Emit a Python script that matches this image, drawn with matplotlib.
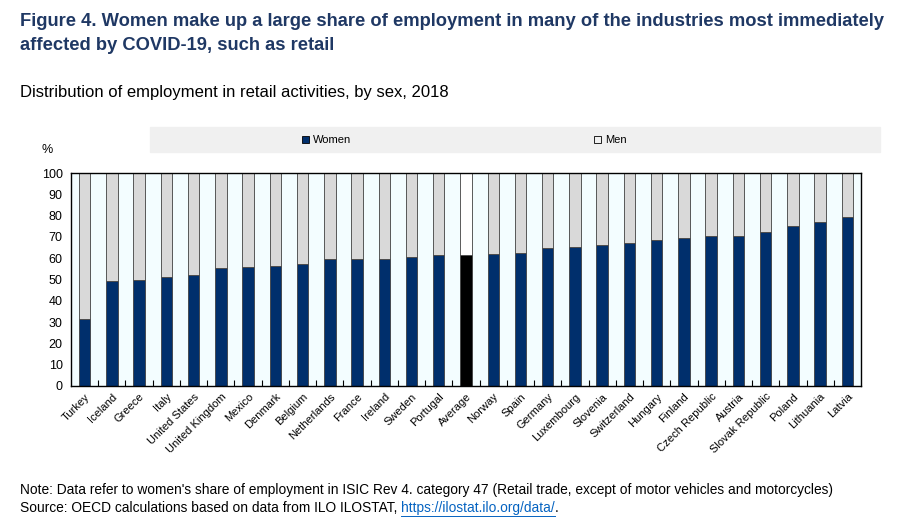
import numpy as np
import matplotlib.pyplot as plt
from matplotlib.patches import Rectangle

countries = ['Turkey', 'Iceland', 'Greece', 'Italy', 'United States', 'United Kingdom',
             'Mexico', 'Denmark', 'Belgium', 'Netherlands', 'France', 'Ireland', 'Sweden',
             'Portugal', 'Average', 'Norway', 'Spain', 'Germany', 'Luxembourg', 'Slovenia',
             'Switzerland', 'Hungary', 'Finland', 'Czech Republic', 'Austria',
             'Slovak Republic', 'Poland', 'Lithuania', 'Latvia']
women = [31.3, 49.5, 49.7, 51.1, 51.9, 55.6, 55.9, 56.2, 57.3, 59.5, 59.5, 59.8, 60.6,
         61.7, 61.7, 62.2, 62.3, 64.7, 65.3, 66.4, 67.3, 68.6, 69.4, 70.6, 70.6,
         72.3, 75.2, 77.2, 79.4]
men = [100 - w for w in women]

navy = '#002f6c'
grey = '#d9d9d9'
plt.rcParams['font.family'] = ['Liberation Sans', 'DejaVu Sans']

fig = plt.figure(figsize=(9.2, 5.27), dpi=100)
ax = fig.add_axes([71 / 920, 1 - 386 / 527, 790 / 920, 213 / 527])
ax.set_facecolor('#f3fdff')

x = np.arange(len(countries))
wc = [navy] * len(countries)
mc = [grey] * len(countries)
avg = countries.index('Average')
wc[avg] = 'black'
mc[avg] = 'white'
ax.bar(x, women, width=0.42, color=wc, edgecolor='#404040', linewidth=0.6)
ax.bar(x, men, bottom=women, width=0.42, color=mc, edgecolor='#404040', linewidth=0.6)

ax.set_xlim(-0.5, len(countries) - 0.5)
ax.set_ylim(0, 100)
ax.set_yticks(range(0, 101, 10))
ax.tick_params(axis='y', length=0, labelsize=9, pad=6)
ax.set_xticks(x)
ax.set_xticklabels(countries, rotation=45, ha='right', rotation_mode='anchor', fontsize=8)
ax.tick_params(axis='x', length=0, pad=4)
ax.set_xticks(x[:-1] + 0.5, minor=True)
ax.tick_params(axis='x', which='minor', direction='in', length=4, width=0.8)
for s in ax.spines.values():
    s.set_linewidth(1)
    s.set_color('black')

# legend band
fig.patches.append(Rectangle((150 / 920, 1 - 152 / 527), 730 / 920, 25 / 527,
                             transform=fig.transFigure, color='#f0f0f0', zorder=0))
fig.patches.append(Rectangle((302 / 920, 1 - 143 / 527), 7 / 920, 7 / 527,
                             transform=fig.transFigure, facecolor=navy, edgecolor='black',
                             linewidth=0.6))
fig.text(313 / 920, 1 - 140 / 527, 'Women', fontsize=8, va='center')
fig.patches.append(Rectangle((594 / 920, 1 - 143 / 527), 7 / 920, 7 / 527,
                             transform=fig.transFigure, facecolor='#f0f0f0', edgecolor='black',
                             linewidth=0.6))
fig.text(605 / 920, 1 - 140 / 527, 'Men', fontsize=8, va='center')
fig.text(47 / 920, 1 - 150 / 527, '%', fontsize=9, va='center', ha='center')

title_kw = dict(fontsize=13.2, fontweight='bold', color='#1f3864', va='center')
fig.text(20 / 920, 1 - 22 / 527,
         'Figure 4. Women make up a large share of employment in many of the industries most immediately',
         **title_kw)
fig.text(20 / 920, 1 - 45 / 527, 'affected by COVID-19, such as retail', **title_kw)
fig.text(20 / 920, 1 - 93 / 527, 'Distribution of employment in retail activities, by sex, 2018',
         fontsize=12, va='center')
fig.text(20 / 920, 1 - 490 / 527,
         "Note: Data refer to women's share of employment in ISIC Rev 4. category 47 (Retail trade, except of motor vehicles and motorcycles)",
         fontsize=9.9, va='center')
t1 = fig.text(20 / 920, 1 - 508 / 527, 'Source: OECD calculations based on data from ILO ILOSTAT, ',
              fontsize=9.9, va='center')
fig.canvas.draw()
bb = t1.get_window_extent()
link = fig.text(bb.x1 / 920, 1 - 508 / 527, 'https://ilostat.ilo.org/data/', fontsize=9.9,
                va='center', color='#0563c1')
bb2 = link.get_window_extent()
fig.add_artist(plt.Line2D([bb2.x0 / 920, bb2.x1 / 920], [(bb2.y0 - 0.5) / 527] * 2,
                          color='#0563c1', linewidth=0.7))
fig.text(bb2.x1 / 920, 1 - 508 / 527, '.', fontsize=9.9, va='center')

fig.savefig('out.png', dpi=100)
